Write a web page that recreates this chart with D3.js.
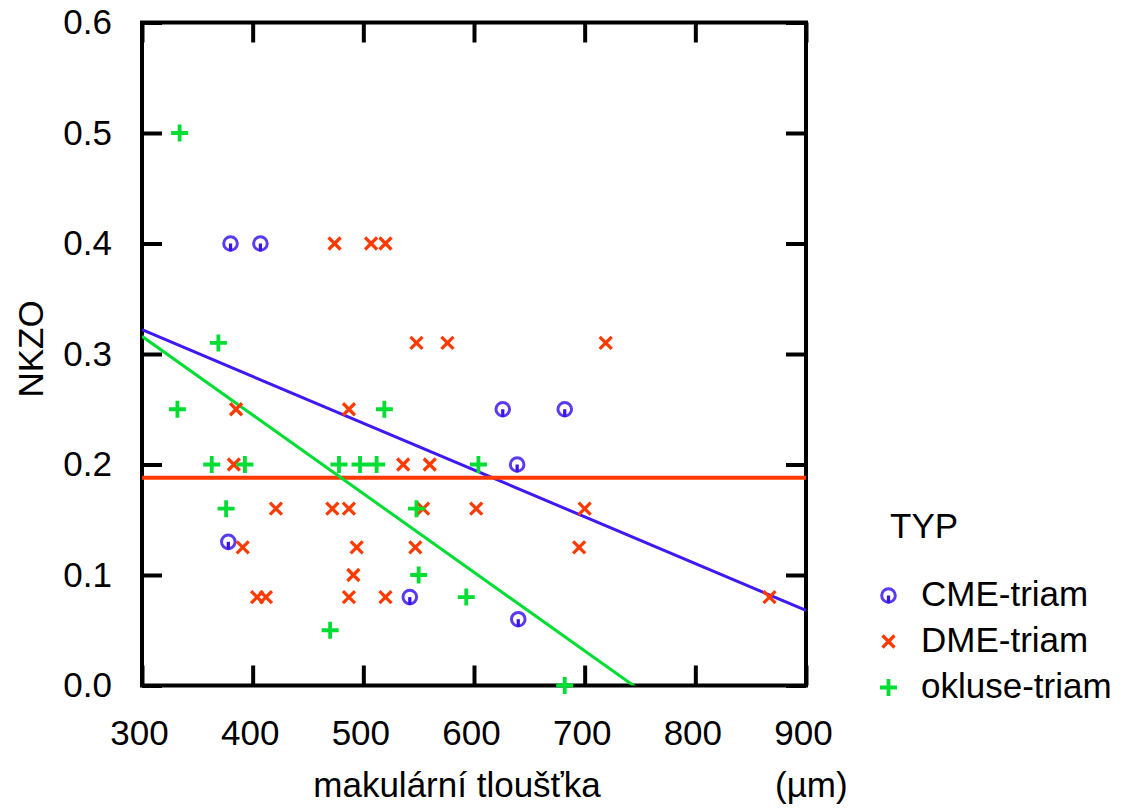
<!DOCTYPE html>
<html>
<head>
<meta charset="utf-8">
<script src="https://cdn.jsdelivr.net/npm/d3@7"></script>
<style>
  html, body { margin: 0; padding: 0; background: #fff; }
  svg text { font-family: "Liberation Sans", Arial, Helvetica, sans-serif; fill: #000; }
</style>
</head>
<body>
<svg id="chart" width="1123" height="808"></svg>
<script>
// Groups shown in the legend
const categories = ["CME-triam", "DME-triam", "okluse-triam"];

// CME-triam: macular thickness (µm) and NKZO
const cmeX = [380, 407, 626, 682, 639, 378, 542, 640];
const cmeY = [0.40, 0.40, 0.25, 0.25, 0.20, 0.13, 0.08, 0.06];

// DME-triam
const dmeX = [474, 507, 520, 548, 576, 719, 385, 487, 383, 536, 560,
              421, 472, 487, 554, 602, 700, 391, 494, 547, 695, 491,
              404, 412, 487, 520, 867];
const dmeY = [0.40, 0.40, 0.40, 0.31, 0.31, 0.31, 0.25, 0.25, 0.20, 0.20, 0.20,
              0.16, 0.16, 0.16, 0.16, 0.16, 0.16, 0.125, 0.125, 0.125, 0.125, 0.10,
              0.08, 0.08, 0.08, 0.08, 0.08];

// okluse-triam
const okluseX = [334, 369, 332, 519, 363, 393, 478, 497, 512, 604, 376, 548, 550, 593, 470, 682];
const okluseY = [0.50, 0.31, 0.25, 0.25, 0.20, 0.20, 0.20, 0.20, 0.20, 0.20, 0.16, 0.16, 0.10, 0.08, 0.05, 0.00];

// Linear fit per group: value at 300 µm and at 900 µm
const fitAt300 = [0.322, 0.188, 0.316];
const fitAt900 = [0.068, 0.188, -0.111];

// Axis ticks
const xTicks = [300, 400, 500, 600, 700, 800, 900];
const yTicks = [0.0, 0.1, 0.2, 0.3, 0.4, 0.5, 0.6];

const colors = ["#3f18f2", "#ff3a00", "#00dd33"];

const svg = d3.select("#chart");
const plotLeft = 142, plotRight = 806, plotTop = 22.5, plotBottom = 685.5;

const x = d3.scaleLinear().domain([300, 900]).range([plotLeft, plotRight]);
const y = d3.scaleLinear().domain([0, 0.6]).range([plotBottom, plotTop]);

svg.append("defs").append("clipPath").attr("id", "plotClip")
  .append("rect").attr("x", plotLeft).attr("y", plotTop)
  .attr("width", plotRight - plotLeft).attr("height", plotBottom - plotTop);

// Axes with inward ticks on all four sides
const tickLen = 20;
const gB = svg.append("g").attr("transform", `translate(0,${plotBottom})`)
  .call(d3.axisBottom(x).tickValues(xTicks).tickSizeInner(-tickLen).tickSizeOuter(0)
        .tickPadding(35).tickFormat(d3.format("d")));
const gL = svg.append("g").attr("transform", `translate(${plotLeft},0)`)
  .call(d3.axisLeft(y).tickValues(yTicks).tickSizeInner(-tickLen).tickSizeOuter(0)
        .tickPadding(30).tickFormat(d3.format(".1f")));
const gT = svg.append("g").attr("transform", `translate(0,${plotTop})`)
  .call(d3.axisTop(x).tickValues(xTicks).tickSizeInner(-tickLen).tickSizeOuter(0).tickFormat(""));
const gR = svg.append("g").attr("transform", `translate(${plotRight},0)`)
  .call(d3.axisRight(y).tickValues(yTicks).tickSizeInner(-tickLen).tickSizeOuter(0).tickFormat(""));

[gB, gL, gT, gR].forEach(g => {
  g.select(".domain").remove();
  g.selectAll(".tick line").attr("stroke", "#000").attr("stroke-width", 4);
  g.selectAll(".tick text").attr("font-size", 35).attr("fill", "#000")
    .style("font-family", '"Liberation Sans", Arial, sans-serif');
});
gB.selectAll(".tick text").attr("dx", -3);

// Plot frame
svg.append("rect").attr("x", plotLeft).attr("y", plotTop)
  .attr("width", plotRight - plotLeft).attr("height", plotBottom - plotTop)
  .attr("fill", "none").attr("stroke", "#000").attr("stroke-width", 4);

// Fit lines
const fits = svg.append("g").attr("clip-path", "url(#plotClip)");
categories.forEach((c, i) => {
  fits.append("line")
    .attr("x1", x(300)).attr("y1", y(fitAt300[i]))
    .attr("x2", x(900)).attr("y2", y(fitAt900[i]))
    .attr("stroke", colors[i])
    .attr("stroke-width", i === 1 ? 4 : 3);
});

// Marker shapes
function drawCircleMark(g, cx, cy) {
  g.append("circle").attr("cx", cx).attr("cy", cy).attr("r", 6.8)
    .attr("fill", "none").attr("stroke", "#5a3cf0").attr("stroke-width", 3);
  g.append("rect").attr("x", cx - 1.6).attr("y", cy).attr("width", 3.2).attr("height", 7.8)
    .attr("fill", "#3a10f0");
}
function drawCross(g, cx, cy) {
  const s = 6;
  g.append("path")
    .attr("d", `M${cx - s},${cy - s}L${cx + s},${cy + s}M${cx - s},${cy + s}L${cx + s},${cy - s}`)
    .attr("stroke", colors[1]).attr("stroke-width", 3.2).attr("fill", "none");
}
function drawPlus(g, cx, cy) {
  const s = 8.5;
  g.append("path")
    .attr("d", `M${cx - s},${cy}L${cx + s},${cy}M${cx},${cy - s}L${cx},${cy + s}`)
    .attr("stroke", colors[2]).attr("stroke-width", 3.8).attr("fill", "none");
}

const pts = svg.append("g");
cmeX.forEach((v, i) => drawCircleMark(pts, x(v), y(cmeY[i])));
dmeX.forEach((v, i) => drawCross(pts, x(v), y(dmeY[i])));
okluseX.forEach((v, i) => drawPlus(pts, x(v), y(okluseY[i])));

// Axis titles
svg.append("text").attr("x", 457).attr("y", 797).attr("text-anchor", "middle")
  .attr("font-size", 35).text("makulární tloušťka");
svg.append("text").attr("x", 775).attr("y", 797).attr("text-anchor", "start")
  .attr("font-size", 35).text("(µm)");
svg.append("text").attr("transform", "translate(43,349) rotate(-90)")
  .attr("text-anchor", "middle").attr("font-size", 35).text("NKZO");

// Legend
const legend = svg.append("g");
legend.append("text").attr("x", 890).attr("y", 538).attr("font-size", 35).text("TYP");
const legendBase = [606, 652, 698];
const drawers = [drawCircleMark, drawCross, drawPlus];
categories.forEach((c, i) => {
  drawers[i](legend, 888.5, legendBase[i] - 10.5);
  legend.append("text").attr("x", 921).attr("y", legendBase[i])
    .attr("font-size", 35).text(c);
});
</script>
</body>
</html>
